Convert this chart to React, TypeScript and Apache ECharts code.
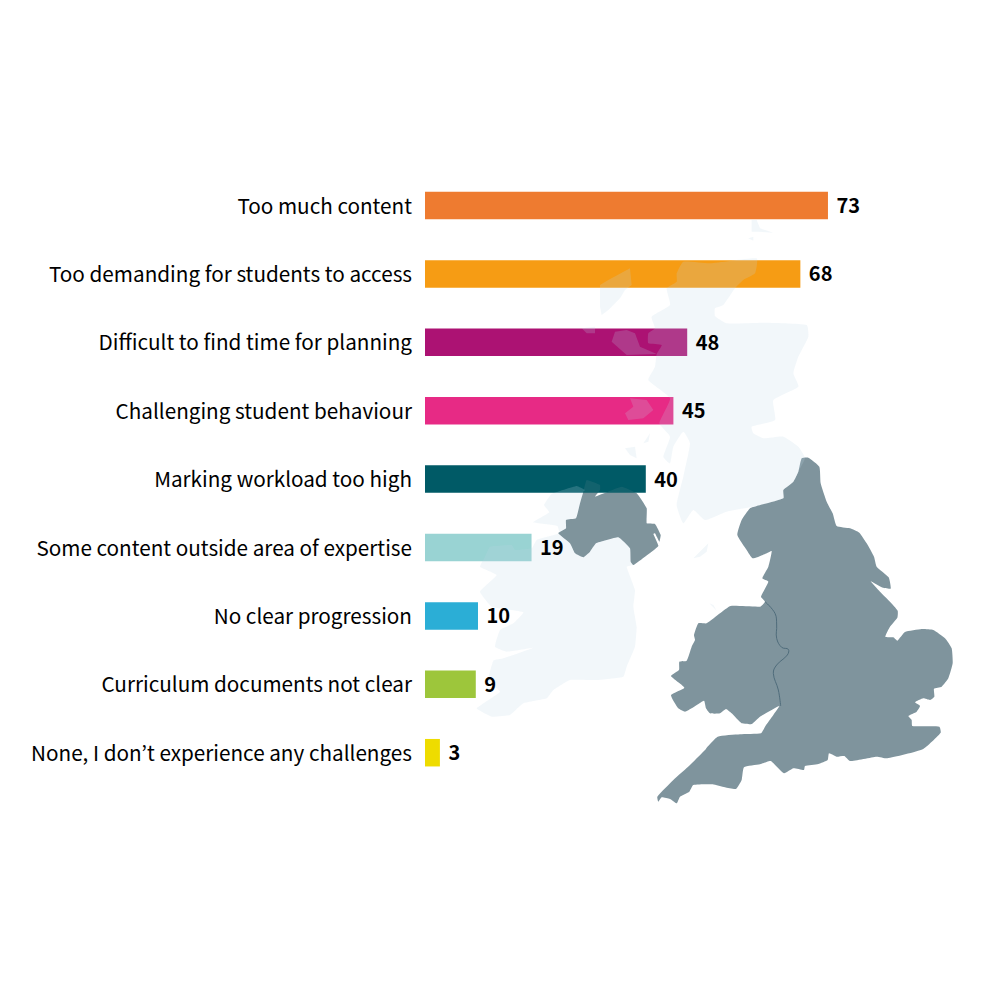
import React, { useEffect, useRef } from "react";
import * as echarts from "echarts";

const categories = [
  "Too much content",
  "Too demanding for students to access",
  "Difficult to find time for planning",
  "Challenging student behaviour",
  "Marking workload too high",
  "Some content outside area of expertise",
  "No clear progression",
  "Curriculum documents not clear",
  "None, I don’t experience any challenges",
];
// Unrounded bar lengths; the labels show them rounded.
const values = [73, 68, 47.5, 45, 40, 19.3, 9.6, 9.2, 2.7];
const colors = ["#EE7B30", "#F69C14", "#AC1273", "#E72A85", "#005A66", "#99D3D3", "#2BAED6", "#9DC63B", "#EEDC00"];

type Pts = number[][];
const toPage = (pts: Pts, ox: number, oy: number) => pts.map(([x, y]) => [ox + x / 3, oy + y / 3]);

const englandWales: Pts = [[455,25],[475,23],[508,50],[512,100],[530,155],[548,190],[560,228],[600,235],[628,248],[650,280],[672,320],[680,350],[716,382],[722,416],[695,412],[662,394],[690,425],[720,455],[743,482],[742,503],[720,530],[706,560],[730,562],[742,572],[765,546],[815,537],[850,540],[885,565],[905,595],[908,640],[895,685],[875,710],[852,716],[853,740],[840,750],[820,745],[795,757],[810,768],[800,785],[775,798],[785,810],[787,828],[868,830],[872,848],[818,898],[712,925],[680,920],[600,933],[583,918],[560,920],[537,910],[533,930],[505,942],[465,948],[462,960],[430,955],[402,970],[362,933],[330,943],[282,952],[275,990],[258,1017],[225,1012],[188,1003],[130,1005],[118,1025],[90,1040],[80,1060],[60,1047],[35,1042],[25,1055],[22,1040],[70,990],[120,945],[165,900],[170,893],[203,860],[270,853],[333,850],[345,830],[370,795],[388,768],[330,800],[305,822],[275,820],[245,790],[228,777],[210,790],[180,790],[168,775],[162,752],[125,775],[105,785],[85,775],[63,735],[103,713],[63,678],[87,660],[88,635],[110,632],[125,590],[135,570],[132,555],[145,520],[170,520],[210,490],[242,468],[330,470],[345,455],[333,440],[355,395],[337,385],[355,350],[365,303],[345,312],[308,325],[290,300],[262,255],[275,210],[300,175],[320,168],[400,145],[400,120],[430,95],[445,65]];
const border: Pts = [[345,455],[375,490],[380,525],[380,565],[395,592],[415,598],[412,615],[380,645],[370,670],[385,720],[392,768]];
const northernIreland: Pts = [[350,90],[390,105],[390,120],[375,140],[455,110],[500,130],[530,175],[530,220],[555,222],[572,255],[568,275],[555,250],[550,252],[565,288],[525,320],[490,345],[482,335],[480,295],[445,262],[378,280],[360,305],[340,322],[315,310],[300,280],[265,250],[288,235],[288,210],[318,205],[330,160],[340,125]];
const ireland: Pts = [[345,120],[320,108],[245,132],[222,165],[238,187],[190,217],[262,228],[268,250],[200,270],[185,295],[135,300],[125,285],[60,290],[45,320],[30,350],[80,375],[30,425],[65,470],[160,487],[130,520],[90,540],[75,590],[110,605],[190,593],[100,625],[70,632],[55,690],[90,725],[20,775],[65,800],[120,795],[160,760],[230,745],[250,720],[300,690],[380,690],[460,680],[470,650],[495,590],[500,530],[490,470],[495,420],[470,350],[490,345],[482,335],[480,295],[445,262],[378,280],[360,305],[340,322],[315,310],[300,280],[265,250],[288,235],[288,210],[318,205],[330,160],[340,125]];
const scotland: Pts = [[620,190],[640,155],[720,160],[860,145],[855,190],[820,210],[795,235],[760,285],[735,295],[735,318],[770,340],[880,338],[1010,345],[1015,380],[985,440],[970,490],[985,530],[910,570],[915,630],[845,650],[850,670],[880,685],[940,680],[985,710],[1005,744],[985,785],[970,815],[940,840],[940,865],[860,888],[770,905],[705,930],[670,900],[640,940],[620,885],[640,800],[660,700],[640,665],[610,710],[600,760],[580,740],[600,680],[568,640],[600,565],[535,510],[555,470],[560,432],[575,405],[535,400],[535,370],[555,355],[545,320],[600,285],[590,235],[620,215]];
const islands: Pts[] = [
  [[425,395],[435,365],[470,360],[495,370],[510,410],[560,432],[470,435]],
  [[390,225],[415,210],[480,175],[485,225],[465,240],[450,265],[415,300],[395,315],[390,290]],
  [[335,355],[375,350],[375,370],[350,370]],
  [[465,610],[490,590],[480,565],[530,570],[550,600],[520,625],[475,630]],
  [[465,715],[495,710],[500,745],[480,735]],
  [[520,700],[540,670],[535,695]],
  [[845,30],[860,30],[870,55],[910,68],[865,65],[845,65]],
  [[835,85],[850,80],[850,92]],
];
const isleOfMan: Pts = [[130,325],[160,295],[175,280],[170,305],[150,320]];
const anglesey: Pts = [[178,460],[190,465],[200,482]];

const DARK = "#7F949D";
const LIGHT = "rgba(190,215,230,0.2)";
const FONT = "'Noto Sans CJK KR', 'Noto Sans', sans-serif";

const poly = (pts: Pts, fill: string, z: number, smooth = 0) => ({
  type: "polygon",
  silent: true,
  z,
  shape: { points: pts, smooth },
  style: { fill },
});

export default function App() {
  const ref = useRef<HTMLDivElement>(null);
  useEffect(() => {
    const chart = echarts.init(ref.current!, undefined, { renderer: "svg" });
    chart.setOption({
      animation: false,
      backgroundColor: "#ffffff",
      grid: { left: 425, width: 552, top: 171.3, height: 615.6, containLabel: false, outerBoundsMode: "none" },
      xAxis: { type: "value", min: 0, max: 100, show: false },
      yAxis: {
        type: "category",
        inverse: true,
        data: categories,
        axisLine: { show: false },
        axisTick: { show: false },
        splitLine: { show: false },
        axisLabel: {
          margin: 13,
          formatter: (v: string) => `{t|${v}}`,
          rich: {
            t: {
              color: "#000000",
              fontSize: 20.7,
              fontFamily: FONT,
              padding: [0, 0, 2, 0],
            },
          },
        },
      },
      series: [
        {
          type: "bar",
          z: 5,
          barWidth: 27.5,
          barGap: "-100%",
          data: values.map((value, i) => ({ value, itemStyle: { color: colors[i] } })),
        },
        {
          // Carries the value labels above the translucent map layer.
          type: "bar",
          z: 10,
          barWidth: 27.5,
          barGap: "-100%",
          itemStyle: { color: "rgba(0,0,0,0)" },
          data: values,
          label: {
            show: true,
            position: "right",
            distance: 8.5,
            offset: [0, -1],
            color: "#000000",
            fontSize: 20,
            fontWeight: 600,
            fontFamily: FONT,
            formatter: (p: any) => String(Math.round(p.value)),
          },
        },
      ],
      graphic: {
        elements: [
          poly(toPage(englandWales, 650, 450), DARK, -1, 0.15),
          {
            type: "polyline",
            silent: true,
            z: -1,
            shape: { points: toPage(border, 650, 450), smooth: 0.4 },
            style: { stroke: "#4F6C7B", lineWidth: 1, fill: "none" },
          },
          poly(toPage(northernIreland, 470, 450), DARK, -1, 0.1),
          poly(toPage(northernIreland, 470, 450), "rgba(127,148,157,0.14)", 7, 0.1),
          poly(toPage(ireland, 470, 450), LIGHT, 7, 0.1),
          poly(toPage(scotland, 470, 210), LIGHT, 7, 0.15),
          ...islands.map((p) => poly(toPage(p, 470, 210), LIGHT, 7)),
          poly(toPage(isleOfMan, 650, 450), LIGHT, 7),
          poly(toPage(anglesey, 650, 450), LIGHT, 7),
        ],
      },
    });
    return () => chart.dispose();
  }, []);
  return <div ref={ref} style={{ position: "absolute", left: 0, top: 0, width: 1000, height: 1000 }} />;
}
